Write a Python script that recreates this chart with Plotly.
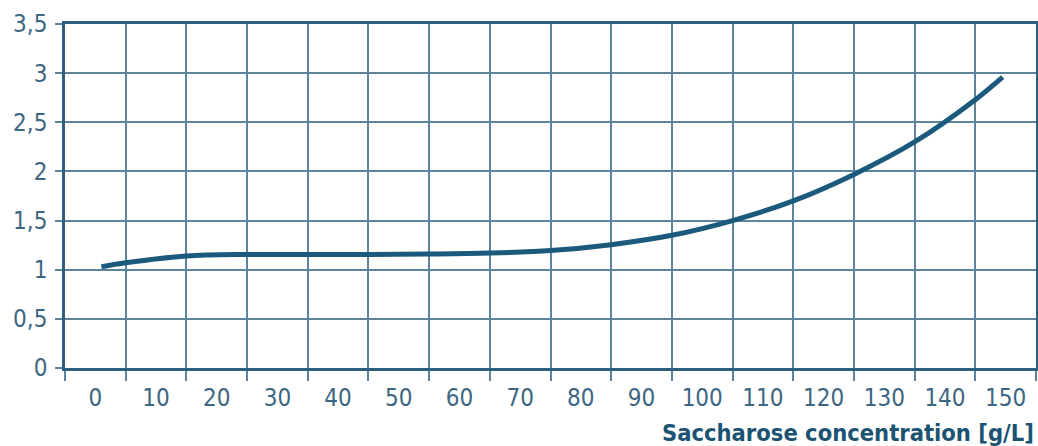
import plotly.graph_objects as go

# curve (x in g/L, y relative value)
conc = [1, 5, 15, 25, 35, 45, 55, 65, 75, 85, 95, 105, 115, 125, 135, 145, 149.5]
rel = [1.03, 1.07, 1.14, 1.155, 1.155, 1.155, 1.16, 1.17, 1.195, 1.255, 1.35, 1.50,
       1.70, 1.97, 2.30, 2.73, 2.96]

x_ticks = list(range(0, 151, 10))
y_ticks = [0, 0.5, 1, 1.5, 2, 2.5, 3, 3.5]
y_labels = ["0", "0,5", "1", "1,5", "2", "2,5", "3", "3,5"]

grid = "#5d849d"
axis = "#2f5f7f"
text = "#3d6682"
curve = "#1b5a7c"
font = "DejaVu Sans Condensed, Liberation Sans Narrow, Roboto, sans-serif"

fig = go.Figure()
fig.add_trace(go.Scatter(
    x=conc, y=rel, mode="lines",
    line=dict(color=curve, width=5, shape="spline", smoothing=0.9),
    hoverinfo="skip", showlegend=False,
))

fig.update_layout(
    width=1038, height=446,
    margin=dict(l=65, r=2, t=24, b=78, autoexpand=False),
    paper_bgcolor="white", plot_bgcolor="white",
    font=dict(family=font, color=text, size=22),
    xaxis=dict(
        range=[-5, 155], tickvals=x_ticks, ticktext=[str(v) for v in x_ticks],
        ticks="", showgrid=False, zeroline=False, automargin=False,
        showline=True, linecolor=axis, linewidth=2.5, mirror=True,
        tickfont=dict(size=24, family=font, color=text),
        ticklabelstandoff=6,
        minor=dict(tick0=-5, dtick=10, showgrid=True, gridcolor=grid, gridwidth=1.5,
                   ticks="outside", ticklen=10, tickcolor=grid, tickwidth=1.5),
        fixedrange=True,
    ),
    yaxis=dict(
        range=[0, 3.5], tickvals=y_ticks, ticktext=y_labels,
        ticks="outside", ticklen=7, tickcolor=grid, tickwidth=1.5,
        showgrid=True, gridcolor=grid, gridwidth=1.5, zeroline=False,
        showline=True, linecolor=axis, linewidth=2.5, mirror=True,
        automargin=False, ticklabelstandoff=3,
        tickfont=dict(size=24, family=font, color=text),
        fixedrange=True,
    ),
    annotations=[dict(
        text="<b>Saccharose concentration [g/L]</b>",
        xref="paper", yref="paper", x=1.0, y=-0.19,
        xanchor="right", yanchor="middle", showarrow=False,
        font=dict(size=23.5, family=font, color="#1c5373"),
    )],
)

# page has a default 8px body margin; drop it so the chart fills the window
fig.write_html("out.html", config={"displayModeBar": False},
               post_script="document.body.style.margin='0';")
